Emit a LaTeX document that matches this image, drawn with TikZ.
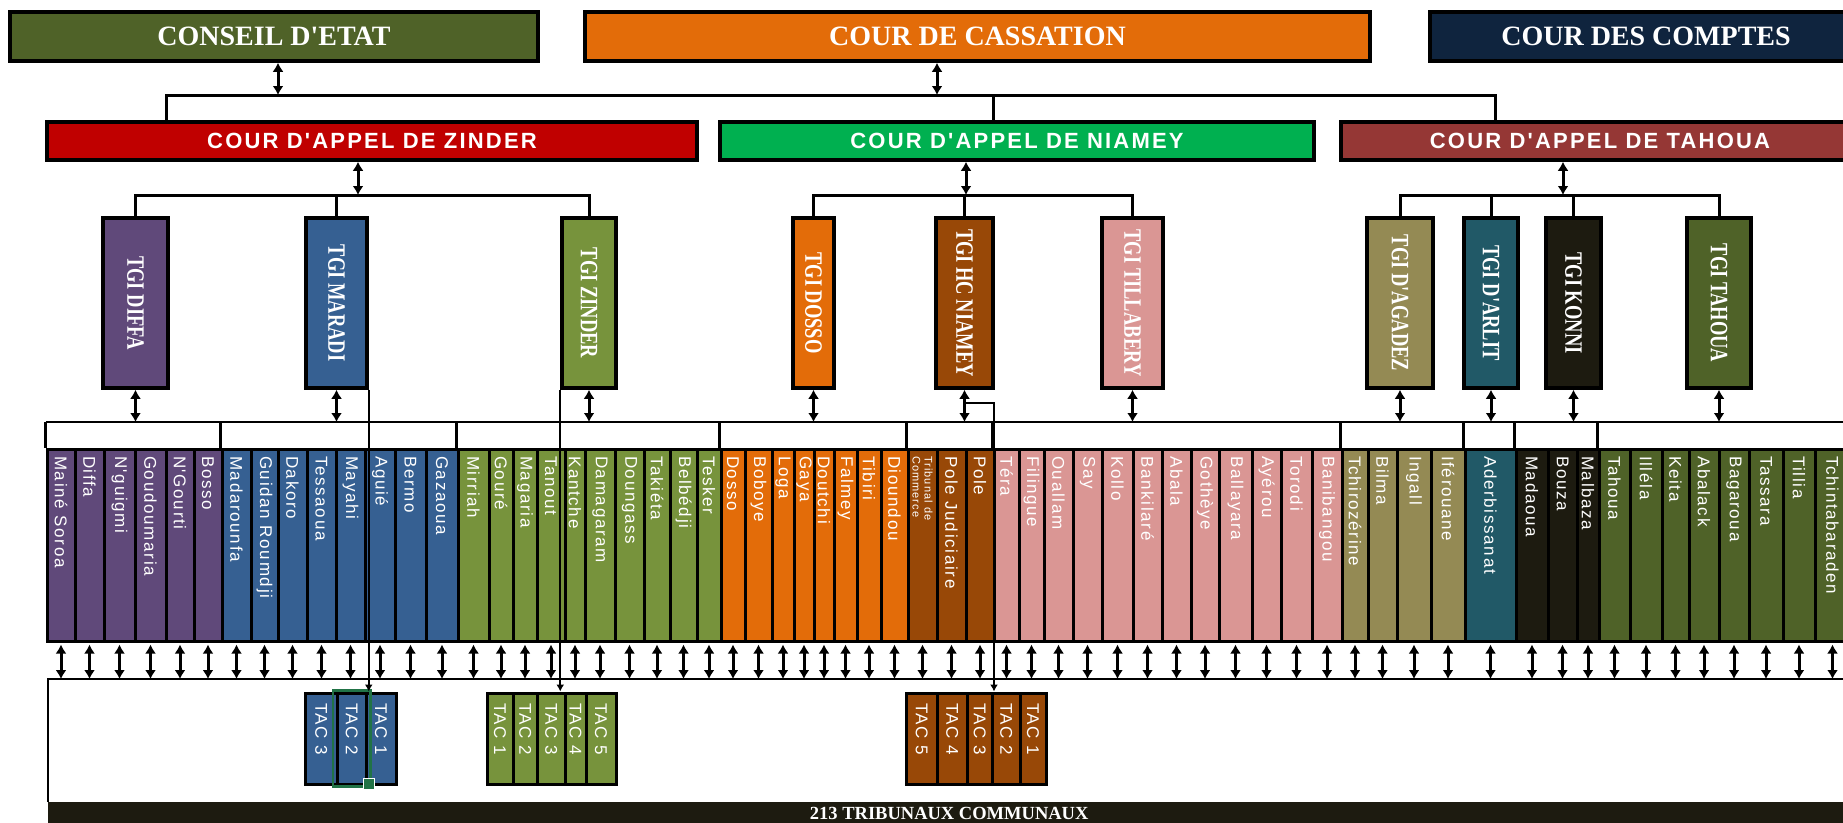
\documentclass[tikz,border=0pt]{standalone}
\usepackage{fontspec}
\setmainfont{Liberation Serif}
\newfontfamily\tribfont[LetterSpace=10]{Liberation Sans}
\usepackage{graphicx}
\usepackage{tikz}
\usetikzlibrary{calc,positioning,arrows.meta,fit}

\definecolor{cOlive}{HTML}{4F6228}
\definecolor{cOrng}{HTML}{E36C09}
\definecolor{cNavy}{HTML}{0F243E}
\definecolor{cRed}{HTML}{C00000}
\definecolor{cGreen}{HTML}{00B050}
\definecolor{cBrown}{HTML}{953735}
\definecolor{cPurp}{HTML}{60497A}
\definecolor{cBlu}{HTML}{366092}
\definecolor{cGrn}{HTML}{77933C}
\definecolor{cBrwn}{HTML}{984807}
\definecolor{cPink}{HTML}{DA9694}
\definecolor{cKhaki}{HTML}{948A54}
\definecolor{cTeal}{HTML}{215967}
\definecolor{cKonni}{HTML}{1D1B10}
\definecolor{cSel}{HTML}{217346}

\tikzstyle{box}     = [draw=black, line width=3.5pt, inner sep=0pt, text=white]
\tikzstyle{dbl}     = [{Latex[length=9pt,width=11pt]}-{Latex[length=9pt,width=11pt]}, line width=3pt]
\tikzstyle{bus}     = [line width=3pt]

\newcommand{\vtxt}[2]{\rotatebox{-90}{\parbox{#1}{\raggedright #2}}}
\newcommand{\tgitxt}[1]{\rotatebox{-90}{\scalebox{1}[1.35]{#1}}}

\begin{document}
\begin{tikzpicture}[x=1pt,y=-1pt,
			top/.style={box, minimum height=49, font=\bfseries\fontsize{28}{28}\selectfont},
			cour/.style={box, minimum height=38, font=\tribfont\bfseries\fontsize{22}{22}\selectfont},
			tgi/.style={box, minimum height=170, font=\bfseries\fontsize{18.5}{18.5}\selectfont},
			cell/.style={box, line width=3pt, minimum height=192, font=\tribfont\fontsize{17}{20}\selectfont},
			tac/.style={box, line width=3pt, minimum height=91, font=\tribfont\fontsize{17}{20}\selectfont},
			tacline/.style={line width=2pt, -{Latex[length=7pt,width=8pt]}},
			thinbus/.style={line width=1.8pt}]

		\useasboundingbox (0,0) rectangle (1843,822);
		\clip (0,0) rectangle (1843,822);
		\fill[white] (0,0) rectangle (1843,822);

		% hautes juridictions
		\node[top, fill=cOlive, minimum width=528] (conseil) at (274,36.5) {CONSEIL D\textquotesingle ETAT};
		\node[top, fill=cOrng, minimum width=785] (cassation) at (977.5,36.5) {COUR DE CASSATION};
		\node[top, fill=cNavy, minimum width=432] (comptes) at (1646,36.5) {COUR DES COMPTES};

		% cours d'appel
		\node[cour, fill=cRed, minimum width=650] (cZinder) at (372,141) {COUR D'APPEL DE ZINDER};
		\node[cour, fill=cGreen, minimum width=594] (cNiamey) at (1017,141) {COUR D'APPEL DE NIAMEY};
		\node[cour, fill=cBrown, minimum width=518] (cTahoua) at (1600,141) {COUR D'APPEL DE TAHOUA};

		\coordinate (topbus) at (0,95);
		\coordinate (cArr) at (278,95);
		\coordinate (kArr) at (937,95);
		\coordinate (zTop) at (166,95);
		\coordinate (nTop) at (993,95);
		\coordinate (tTop) at (1495,95);
		\draw[dbl] (conseil.south -| cArr) -- (cArr);
		\draw[dbl] (cassation.south -| kArr) -- (kArr);
		\draw[bus] (cZinder.north -| zTop) |- (tTop) -- (cTahoua.north -| tTop);
		\draw[bus] (nTop) -- (cNiamey.north -| nTop);

		% tribunaux de grande instance
		\node[tgi, fill=cPurp, minimum width=65] (tgiDiffa) at (135.5,303) {\tgitxt{TGI DIFFA}};
		\node[tgi, fill=cBlu, minimum width=61] (tgiMaradi) at (336.5,303) {\tgitxt{TGI MARADI}};
		\node[tgi, fill=cGrn, minimum width=54] (tgiZinder) at (589,303) {\tgitxt{TGI ZINDER}};
		\node[tgi, fill=cOrng, minimum width=41] (tgiDosso) at (813.5,303) {\tgitxt{TGI DOSSO}};
		\node[tgi, fill=cBrwn, minimum width=57] (tgiHC) at (964.5,303) {\tgitxt{TGI HC NIAMEY}};
		\node[tgi, fill=cPink, minimum width=61] (tgiTill) at (1132.5,303) {\tgitxt{TGI TILLABERY}};
		\node[tgi, fill=cKhaki, minimum width=66] (tgiAgadez) at (1400,303) {\tgitxt{TGI D\textquotesingle AGADEZ}};
		\node[tgi, fill=cTeal, minimum width=54] (tgiArlit) at (1491,303) {\tgitxt{TGI D\textquotesingle ARLIT}};
		\node[tgi, fill=cKonni, minimum width=55] (tgiKonni) at (1573.5,303) {\tgitxt{TGI KONNI}};
		\node[tgi, fill=cOlive, minimum width=64] (tgiTahoua) at (1719,303) {\tgitxt{TGI TAHOUA}};

		\coordinate (zbus) at (0,195);
		\coordinate (zArr) at (358,195);
		\coordinate (nArr) at (966,195);
		\coordinate (tArr) at (1563,195);
		\draw[dbl] (cZinder.south -| zArr) -- (zArr);
		\draw[dbl] (cNiamey.south -| nArr) -- (nArr);
		\draw[dbl] (cTahoua.south -| tArr) -- (tArr);
		\draw[bus] (tgiDiffa.north) |- (zbus -| tgiZinder.north) -- (tgiZinder.north);
		\draw[bus] (tgiMaradi.north) -- (tgiMaradi.north |- zbus);
		\draw[bus] (tgiDosso.north) |- (zbus -| tgiTill.north) -- (tgiTill.north);
		\draw[bus] (tgiHC.north) -- (tgiHC.north |- zbus);
		\draw[bus] (tgiAgadez.north) |- (zbus -| tgiTahoua.north) -- (tgiTahoua.north);
		\draw[bus] (tgiArlit.north) -- (tgiArlit.north |- zbus);
		\draw[bus] (tgiKonni.north) -- (tgiKonni.north |- zbus);

		% tribunaux d'instance
		\coordinate (lbus) at (0,422);
		\coordinate (lbusEnd) at (1850,422);
		\coordinate (bbus) at (0,679);
		\coordinate (bbusEnd) at (1850,679);
		\foreach \xa/\xb/\nm/\cc [count=\i] in {
				47/75/Mainé Soroa/cPurp, 75/104/Diffa/cPurp, 104/135/N'guigmi/cPurp,
				135/166/Goudoumaria/cPurp, 166/194/N'Gourti/cPurp, 194/222/Bosso/cPurp,
				222/251/Madarounfa/cBlu, 251/278/Guidan Roumdji/cBlu, 278/307/Dakoro/cBlu,
				307/336/Tessaoua/cBlu, 336/365/Mayahi/cBlu, 365/395/Aguié/cBlu,
				395/426/Bermo/cBlu, 426/458/Gazaoua/cBlu,
				458/489/Mirriah/cGrn, 489/513/Gouré/cGrn, 513/537/Magaria/cGrn,
				537/565/Tanout/cGrn, 565/585/Kantche/cGrn, 585/615/Damagaram/cGrn,
				615/644/Doungass/cGrn, 644/670/Takiéta/cGrn, 670/697/Belbédji/cGrn,
				697/721/Tesker/cGrn,
				721/745/Dosso/cOrng, 745/772/Boboye/cOrng, 772/794/Loga/cOrng,
				794/814/Gaya/cOrng, 814/834/Doutchi/cOrng, 834/857/Falmey/cOrng,
				857/881/Tibiri/cOrng, 881/908/Dioundou/cOrng,
				908/937/{\fontsize{11}{12}\selectfont Tribunal de\\Commerce}/cBrwn,
				937/966/Pole Judiciaire/cBrwn, 966/994/Pole/cBrwn,
				994/1019/Téra/cPink, 1019/1044/Filingue/cPink, 1044/1073/Ouallam/cPink,
				1073/1102/Say/cPink, 1102/1133/Kollo/cPink, 1133/1162/Bankilaré/cPink,
				1162/1191/Abala/cPink, 1191/1219/Gothèye/cPink, 1219/1252/Ballayara/cPink,
				1252/1281/Ayérou/cPink, 1281/1312/Torodi/cPink, 1312/1342/Banibangou/cPink,
				1342/1368/Tchirozérine/cKhaki, 1368/1397/Bilma/cKhaki,
				1397/1431/Ingall/cKhaki, 1431/1465/Iférouane/cKhaki,
				1465/1516/Aderbissanat/cTeal,
				1516/1548/Madaoua/cKonni, 1548/1577/Bouza/cKonni, 1577/1599/Malbaza/cKonni,
				1599/1630/Tahoua/cOlive, 1630/1662/Illéla/cOlive, 1662/1689/Keita/cOlive,
				1689/1719/Abalack/cOlive, 1719/1749/Bagaroua/cOlive, 1749/1783/Tassara/cOlive,
				1783/1815/Tillia/cOlive, 1815/1850/Tchintabaraden/cOlive}{
				\pgfmathsetmacro\w{\xb-\xa}
				\pgfmathsetmacro\xc{(\xa+\xb)/2}
				\node[cell, fill=\cc, minimum width=\w] (t\i) at (\xc,545) {\vtxt{178pt}{\nm}};
				\draw[dbl, shorten <=2pt] (t\i.south) -- (t\i.south |- bbus);
			}

		\draw[bus, line width=2.7pt] (t1.north west |- lbus) -- (lbusEnd);
		\foreach \j in {1,7,15,25,33,36,48,52,53,56}
		\draw[line width=2.7pt] (t\j.north west |- lbus) -- (t\j.north west);

		\foreach \g in {tgiDiffa,tgiMaradi,tgiZinder,tgiDosso,tgiHC,tgiTill,tgiAgadez,tgiArlit,tgiKonni,tgiTahoua}
		\draw[dbl] (\g.south) -- (\g.south |- lbus);

		% tribunaux d'arrondissement communaux
		\foreach \nd/\xa/\xb/\nm/\cc in {
				tm3/305/337.5/TAC 3/cBlu, tm2/337.5/366/TAC 2/cBlu, tm1/366/396/TAC 1/cBlu,
				tz1/487/513/TAC 1/cGrn, tz2/513/537.5/TAC 2/cGrn, tz3/537.5/565/TAC 3/cGrn,
				tz4/565/586/TAC 4/cGrn, tz5/586/616/TAC 5/cGrn,
				tn5/906/937.5/TAC 5/cBrwn, tn4/937.5/967/TAC 4/cBrwn, tn3/967/992.5/TAC 3/cBrwn,
				tn2/992.5/1020/TAC 2/cBrwn, tn1/1020/1046/TAC 1/cBrwn}{
				\pgfmathsetmacro\w{\xb-\xa}
				\pgfmathsetmacro\xc{(\xa+\xb)/2}
				\node[tac, fill=\cc, minimum width=\w] (\nd) at (\xc,738.5) {\vtxt{71pt}{\nm}};
			}

		\node[draw=cSel, line width=2.5pt, fit=(tm2), inner xsep=3pt, inner ysep=1pt] (sel) {};
		\node[fill=cSel, draw=white, line width=1pt, minimum size=11, inner sep=0pt] (selDot) at ($(sel.south east)+(-3,-4)$) {};

		\coordinate (hcTurn) at (994,403);
		\draw[tacline] (tgiMaradi.south east) -- (tgiMaradi.south east |- tm2.north);
		\draw[tacline] (tgiZinder.south west) -- (tgiZinder.south west |- tz3.north);
		\draw[tacline] (tgiHC.south |- hcTurn) -- (hcTurn) -- (hcTurn |- tn3.north);

		% tribunaux communaux
		\node[fill=cKonni, text=white, anchor=north west, minimum width=1802, minimum height=22, inner sep=0pt,
			font=\bfseries\fontsize{18.5}{18.5}\selectfont] (tcom) at (48,802) {213 TRIBUNAUX COMMUNAUX};
		\draw[thinbus] (tcom.north west) |- (bbusEnd);
	\end{tikzpicture}
\end{document}
